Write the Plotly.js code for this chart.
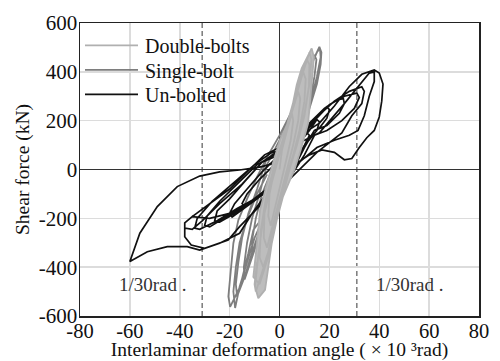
<!DOCTYPE html>
<html>
<head>
<meta charset="utf-8">
<script src="https://cdn.plot.ly/plotly-3.0.1.min.js"></script>
<style>html,body{margin:0;padding:0;background:#fff;}#chart{width:500px;height:361px;}</style>
</head>
<body>
<div id="chart"></div>
<script>
// ---- Data ----
const seriesNames = ['Double-bolts', 'Single-bolt', 'Un-bolted'];

// Un-bolted hysteresis path (x: 10^-3 rad, y: kN)
const unboltedX = [0,3,6,9,11,12,10,7,4,0,-5,-10,-14,-15,-13,-8,-3,0,
  4,8,12,15,16,15,11,7,3,-3,-9,-15,-19,-20,-18,-13,-7,-2,2,
  6,10,15,19,20,19,16,14,11,7,3,-4,-11,-18,-24,-26,-25,-20,-14,-7,0,
  6,12,18,23,25.6,26,24,19,14,10,6,2,-6,-14,-22,-28,-30,-29,-24,-17,-9,-2,3,
  8,14,20,26,31,32,30,25,19,14,10,5,0,-8,-17,-25,-32,-34,-33,-27,-19,-10,-3,3,
  9,15,22,28,33,34,33,29,25,20,15,9,4,-3,-11,-20,-28,-35,-38,-38,-35,-31,-24,-15,-7,0,4,
  8,16,26,36,38,38,36,34,31.5,28,22,15,8,3,-3,-8,-16,-20.6,-30,-35.4,-38,-38,-35,-28,-20,-12,-6,0,
  5,10,16,22,28,33,38,40,41.5,41,40,38,35,32,29,26,22,17,12,6,0,-6,-11,-16,-24,-32,-37,-45,-53,-60,-56,-49,-41,-32,-24,-16,-8,0];
const unboltedY = [0,40,80,120,150,140,100,50,0,-40,-80,-120,-150,-140,-100,-40,10,30,
  60,110,160,205,195,160,110,40,-20,-70,-120,-165,-195,-180,-140,-80,-10,40,60,
  100,160,215,257,245,210,170,160,110,40,-30,-80,-130,-180,-215,-210,-170,-120,-50,30,60,
  110,190,250,285,290,270,230,180,160,90,10,-50,-100,-150,-200,-235,-228,-190,-130,-60,20,60,70,
  120,200,265,300,313,295,250,200,160,140,60,-20,-60,-110,-160,-210,-245,-240,-200,-130,-60,20,70,80,
  140,215,280,320,339,320,270,220,150,110,70,10,-40,-80,-130,-180,-200,-193,-219,-240,-245,-210,-140,-60,30,80,90,
  110,150,270,395,400,360,300,220,160,140,120,90,30,-20,-70,-150,-234,-289,-323,-309,-275,-219,-193,-140,-80,0,60,90,
  100,150,190,260,340,390,408,395,350,280,215,160,130,90,45,40,70,80,60,20,-50,-110,-180,-261,-302,-330,-316,-316,-337,-377,-261,-152,-70,-27,-10,-2,10,30];

// Single-bolt hysteresis path
const singleX = [0,2,5,6,
  6.3,4,0,-4,-7,-8,
  -7.5,-5,-2,2,5,8,9,
  9.5,8,5,1,-3,-6.5,-9.5,-11,
  -11,-9.5,-7,-3,0,4,8,11,12,
  12.6,11.5,9,5,1,-3,-7,-10,-12.5,-14,
  -14.3,-13,-11,-8,-5,0,5,9,12,14,
  14.8,14,12,8,4,0,-4,-8,-11,-14,-17,
  -17.5,-16.5,-15,-12.5,-9,-5,0,5,9,12,14.5,16,
  16.8,16.5,15,12,8,4,0,-4,-7,-10.5,-12.5,-15.8,-19.8,
  -20.5,-19.8,-18.5,-16.5,-13,-9,-5,0,5,9,12,15,16.2,
  16.5,15,12,8,3,-2,-6,-10,-13,-16,-17.8,
  -18.5,-17.5,-16,-13,-9,-5];
const singleY = [0,100,190,220,
  200,110,0,-120,-210,-250,
  -180,-80,0,100,210,300,330,
  310,220,120,0,-110,-220,-310,-350,
  -290,-200,-100,0,90,190,300,390,420,
  400,320,220,100,-20,-120,-230,-330,-410,-450,
  -400,-300,-200,-100,20,120,230,330,420,470,
  450,380,270,140,30,-60,-150,-250,-340,-440,-520,
  -470,-380,-280,-180,-80,50,140,240,330,410,470,502,
  480,430,350,250,120,20,-60,-140,-200,-248,-343,-480,-563,
  -520,-439,-302,-207,-120,-30,50,140,240,330,410,480,496,
  460,380,260,130,0,-100,-190,-280,-380,-480,-567,
  -500,-400,-300,-200,-100,-20];

// Double-bolts hysteresis path
const doubleX = [0,1,3,5,
  5.5,4.5,2.5,0.5,-1.5,-3.5,
  -4.5,-4,-2,1,4,6,7.5,
  8.3,7.5,5.5,3,0.5,-2,-5,
  -6.3,-6,-3.5,-0.5,3,6,8.5,9.5,
  10.5,10,8,5,2,-0.5,-3,-6.5,
  -8,-7.5,-5.5,-2.5,1,4,7,9.5,11,
  12,11.8,10,7,4,1,-1.5,-4,-8,
  -10.5,-9,-7.8,-4,0.2,4.2,6.9,8.9,11,12.9,
  13.8,13.3,12.3,11.5,8.5,6,3.5,1.4,-1.1,-3.1,-5.8,-8.5,
  -9.8,-8.5,-6.5,-3,0.5,4,7,10,12,
  12.8,12,10,7,4,1,-2,-5,-8,-9.5,
  -10,-9];
const doubleY = [0,80,160,230,
  200,120,30,-60,-140,-230,
  -190,-100,0,100,200,270,320,
  290,200,100,0,-100,-200,-320,
  -280,-170,-50,60,170,280,370,400,
  370,280,160,40,-70,-180,-290,-400,
  -360,-250,-120,0,110,220,330,410,450,
  430,340,220,100,0,-110,-220,-340,-470,
  -440,-300,-166,-20,121,210,346,414,460,496,
  460,400,290,190,80,0,-60,-111,-207,-302,-493,-527,
  -480,-350,-200,-50,80,200,320,420,480,
  450,350,230,110,10,-100,-220,-360,-460,-500,
  -470,-380];

// Axis ticks, reference angles and labels
const xTicks = [-80,-60,-40,-20,0,20,40,60,80];
const yTicks = [-600,-400,-200,0,200,400,600];
const refAngles = [-31, 31];
const refLabels = ['1/30rad .', '1/30rad .'];
const refLabelX = [-50.7, 52.3];
const refLabelY = -469;

// ---- Chart ----
const serif = 'Liberation Serif';
const traces = [
  {x: singleX, y: singleY, name: seriesNames[1], mode: 'lines', legendrank: 2,
   line: {color: '#7e7e7e', width: 1.8}},
  {x: unboltedX, y: unboltedY, name: seriesNames[2], mode: 'lines', legendrank: 3,
   line: {color: '#111111', width: 1.7}},
  {x: doubleX, y: doubleY, name: seriesNames[0] + ' area', mode: 'lines', showlegend: false,
   fill: 'toself', fillcolor: '#bdbdbd', line: {color: 'rgba(0,0,0,0)', width: 0}, hoverinfo: 'skip'},
  {x: doubleX, y: doubleY, name: seriesNames[0], mode: 'lines', legendrank: 1,
   line: {color: '#b0b0b0', width: 1.8}}
];

const shapes = refAngles.map(a => ({
  type: 'line', xref: 'x', yref: 'paper', x0: a, x1: a, y0: 0, y1: 1,
  line: {color: '#7a7a7a', width: 1.5, dash: '5px,3px'}, layer: 'below'
}));

const annotations = refLabels.map((t, i) => ({
  x: refLabelX[i], y: refLabelY, xref: 'x', yref: 'y', text: t, showarrow: false,
  font: {family: serif, size: 19, color: '#333'}
}));

const layout = {
  width: 500, height: 361,
  margin: {l: 80, r: 21, t: 23, b: 45},
  paper_bgcolor: '#fff', plot_bgcolor: '#fff',
  font: {family: serif, color: '#111'},
  showlegend: true,
  legend: {x: 0.0, y: 0.99, xanchor: 'left', yanchor: 'top', bgcolor: 'rgba(0,0,0,0)',
    font: {family: serif, size: 20, color: '#111'}, itemwidth: 55, tracegroupgap: 0},
  xaxis: {range: [-80, 80], tickvals: xTicks, ticktext: xTicks.map(String),
    showgrid: true, gridcolor: '#dcdcdc', gridwidth: 1.5,
    zeroline: true, zerolinecolor: '#333', zerolinewidth: 1.5,
    showline: true, mirror: true, linecolor: '#222', linewidth: 1.5,
    ticks: '', ticklabelstandoff: -4, tickfont: {family: serif, size: 20.5, color: '#111'},
    title: {text: 'Interlaminar deformation angle ( × 10 ³rad)', font: {family: serif, size: 19.5, color: '#111'}, standoff: 0}},
  yaxis: {range: [-600, 600], tickvals: yTicks, ticktext: yTicks.map(String),
    showgrid: true, gridcolor: '#dcdcdc', gridwidth: 1.5,
    zeroline: true, zerolinecolor: '#333', zerolinewidth: 1.5,
    showline: true, mirror: true, linecolor: '#222', linewidth: 1.5,
    ticks: '', ticklabelstandoff: -3, tickfont: {family: serif, size: 21, color: '#111'},
    title: {text: 'Shear force (kN)', font: {family: serif, size: 19.5, color: '#111'}, standoff: 4}},
  shapes: shapes,
  annotations: annotations
};

Plotly.newPlot('chart', traces, layout, {displayModeBar: false, staticPlot: true}).then(function (gd) {
  // lengthen legend line samples and tighten row spacing to match the reference
  gd.querySelectorAll('.legend .legendlines path').forEach(function (p) {
    p.setAttribute('d', 'M5,0h53');
  });
  var items = gd.querySelectorAll('.legend .traces');
  var first = null;
  items.forEach(function (g, i) {
    var m = /translate\(([-\d.]+),\s*([-\d.]+)\)/.exec(g.getAttribute('transform') || '');
    if (!m) return;
    if (first === null) first = parseFloat(m[2]);
    g.setAttribute('transform', 'translate(' + m[1] + ',' + (first + i * 24.5) + ')');
  });
});
</script>
</body>
</html>
